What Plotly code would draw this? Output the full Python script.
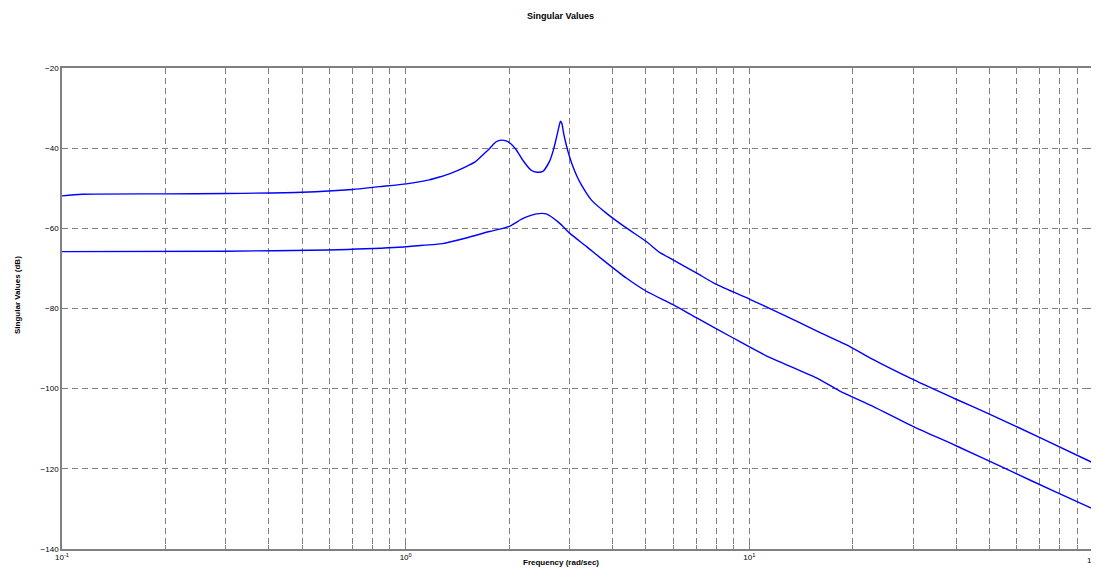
import plotly.graph_objects as go

# Upper singular value curve (frequency rad/sec, dB)
upper_freq = [0.1, 0.1144, 0.2, 0.3, 0.5, 0.7, 0.838, 1.005, 1.172, 1.254, 1.341, 1.5, 1.6, 1.676,
              1.75, 1.792, 1.834, 1.9, 1.961, 2.03, 2.097, 2.2, 2.319, 2.41, 2.506, 2.622, 2.69,
              2.742, 2.79, 2.822, 2.85, 2.88, 2.933, 3.0,
              3.066, 3.15, 3.243, 3.468, 3.834, 4.385, 5.015, 5.483, 5.98, 7.01, 8.02, 10.03,
              12.51, 15.68, 19.61, 22.88, 29.92, 40.1, 50.15, 70.1, 100.0]
upper_db = [-51.9, -51.5, -51.4, -51.3, -51.0, -50.3, -49.6, -48.9, -47.9, -47.2, -46.4, -44.6, -43.3, -41.7,
            -40.2, -39.2, -38.4, -38.0, -38.2, -39.0, -40.4, -43.2, -45.5, -46.0, -45.8, -43.3, -40.5,
            -37.6, -34.8, -33.3, -33.9, -36.2, -39.2, -42.2,
            -44.6, -47.0, -49.1, -52.9, -56.2, -59.9, -63.3, -66.0, -67.8, -71.1, -74.0, -77.7,
            -81.5, -85.6, -89.5, -92.7, -97.7, -102.7, -106.4, -112.2, -118.5]

# Lower singular value curve
lower_freq = [0.1, 0.3, 0.592, 0.927, 1.133, 1.279, 1.5, 1.753, 2.005, 2.188, 2.399, 2.564,
              2.803, 2.999, 3.354, 3.741, 4.385, 5.015, 5.98, 7.01, 8.947, 11.21, 15.68,
              18.34, 22.88, 29.92, 40.1, 56.1, 78.4, 100.0]
lower_db = [-65.8, -65.7, -65.4, -64.8, -64.2, -63.8, -62.4, -60.8, -59.5, -57.6, -56.4, -56.4,
            -58.7, -61.2, -64.5, -67.8, -72.4, -75.7, -79.0, -82.3, -87.3, -91.8, -97.3,
            -100.6, -104.4, -109.4, -114.3, -120.1, -125.9, -130.0]

x_tickvals = [0.1, 1, 10, 100]
x_ticktext = ["10<sup>-1</sup>", "10<sup>0</sup>", "10<sup>1</sup>", "10<sup>2</sup>"]
y_tickvals = [-20, -40, -60, -80, -100, -120, -140]

title_text = "Singular Values"
x_title = "Frequency (rad/sec)"
y_title = "Singular Values (dB)"

FONT = "Liberation Sans, Arial, sans-serif"
GRID = "#808080"

fig = go.Figure()
fig.add_trace(go.Scatter(x=upper_freq, y=upper_db, mode="lines",
                         line=dict(color="#0000ff", width=1.4, shape="spline", smoothing=0.6),
                         showlegend=False))
fig.add_trace(go.Scatter(x=lower_freq, y=lower_db, mode="lines",
                         line=dict(color="#0000ff", width=1.4, shape="spline", smoothing=0.6),
                         showlegend=False))

# page body has an 8px default margin, so the figure is sized/margined to compensate
fig.update_layout(
    width=1091, height=561,
    margin=dict(l=54, r=6, t=60, b=20, autoexpand=False),
    paper_bgcolor="white", plot_bgcolor="white",
    font=dict(family=FONT, size=9, color="black"),
    showlegend=False,
)

fig.update_xaxes(
    type="log", range=[-1, 2], automargin=False,
    tickvals=x_tickvals[:3], ticktext=x_ticktext[:3],
    ticks="inside", ticklen=6, tickcolor=GRID,
    showline=True, linecolor=GRID, linewidth=1.5, mirror="ticks",
    showgrid=True, gridcolor=GRID, griddash="6px,4px", gridwidth=1,
    zeroline=False,
    tickfont=dict(size=8, family=FONT, color="black"),
    minor=dict(dtick="D1", ticks="inside", ticklen=4, tickcolor=GRID,
               showgrid=True, gridcolor=GRID, griddash="6px,4px", gridwidth=1),
)
fig.update_yaxes(
    range=[-140, -20], automargin=False,
    tickvals=y_tickvals,
    ticks="inside", ticklen=6, tickcolor=GRID,
    showline=True, linecolor=GRID, linewidth=1.5, mirror="ticks",
    showgrid=True, gridcolor=GRID, griddash="6px,4px", gridwidth=1,
    zeroline=False,
    tickfont=dict(size=8, family=FONT, color="black"),
)

# last x tick label, partly cut by the right edge as in the reference
fig.add_annotation(text=x_ticktext[3], xref="paper", yref="paper",
                   x=1, y=-(560 - 549) / 481, showarrow=False,
                   xanchor="center", yanchor="middle", font=dict(size=8, family=FONT))

fig.add_annotation(text="<b>" + title_text + "</b>", xref="paper", yref="paper",
                   x=(560 - 62) / 1031, y=1 + (68 - 16) / 481, showarrow=False,
                   xanchor="center", yanchor="middle", font=dict(size=9, family=FONT))
fig.add_annotation(text="<b>" + x_title + "</b>", xref="paper", yref="paper",
                   x=(561 - 62) / 1031, y=-(562 - 549) / 481, showarrow=False,
                   xanchor="center", yanchor="middle", font=dict(size=8, family=FONT))
fig.add_annotation(text="<b>" + y_title + "</b>", xref="paper", yref="paper",
                   x=-(62 - 17) / 1031, y=(549 - 295) / 481, showarrow=False, textangle=-90,
                   xanchor="center", yanchor="middle", font=dict(size=8, family=FONT))

fig.write_html("out.html")
